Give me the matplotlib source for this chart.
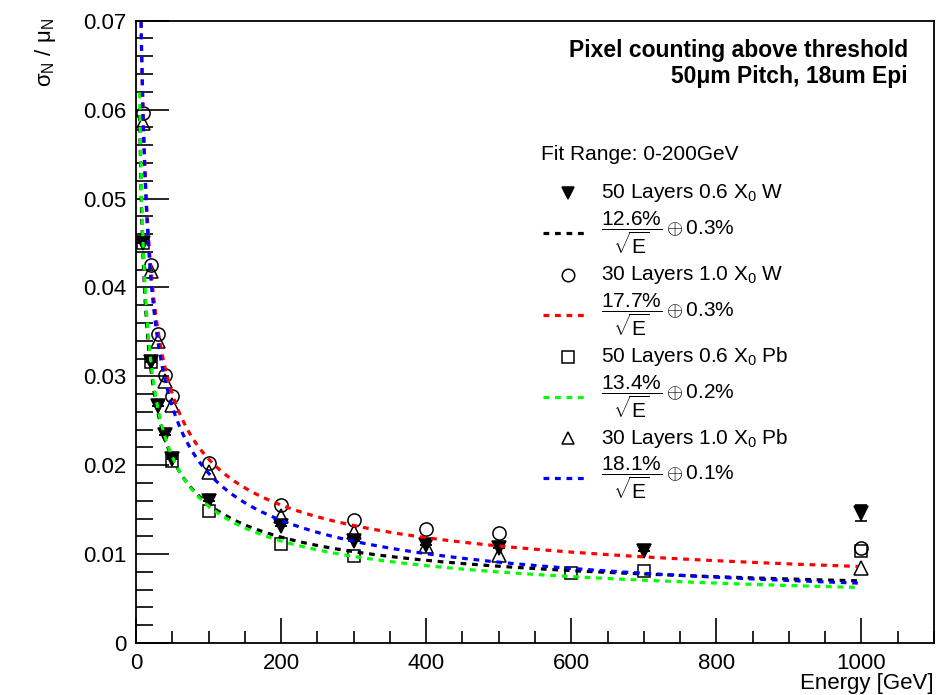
import numpy as np
import matplotlib
matplotlib.use('Agg')
import matplotlib.pyplot as plt
from matplotlib.ticker import MultipleLocator, FuncFormatter

plt.rcParams['font.family'] = ['Liberation Sans', 'DejaVu Sans']
plt.rcParams['mathtext.fontset'] = 'custom'
plt.rcParams['mathtext.rm'] = 'Liberation Sans'
plt.rcParams['mathtext.it'] = 'Liberation Sans:italic'
plt.rcParams['mathtext.bf'] = 'Liberation Sans:bold'

# measured points, sigma_N / mu_N vs beam energy [GeV]
e_w50 = [10, 20, 30, 40, 50, 100, 200, 300, 400, 500, 700, 1000]
res_w50 = [0.0450, 0.0316, 0.0267, 0.0234, 0.0207, 0.0160, 0.0132, 0.0115, 0.0110, 0.0107, 0.0103, 0.0146]
err_w50 = [0, 0, 0, 0, 0, 0, 0, 0, 0, 0, 0, 0.0009]

e_w30 = [10, 20, 30, 40, 50, 100, 200, 300, 400, 500, 1000]
res_w30 = [0.0596, 0.0425, 0.0348, 0.0302, 0.0278, 0.0203, 0.0155, 0.0138, 0.0128, 0.0124, 0.0107]

e_pb50 = [10, 20, 50, 100, 200, 300, 600, 700, 1000]
res_pb50 = [0.0450, 0.0316, 0.0205, 0.0148, 0.0111, 0.0098, 0.0079, 0.0081, 0.0104]

e_pb30 = [10, 20, 30, 40, 50, 100, 200, 300, 400, 500, 1000]
res_pb30 = [0.0585, 0.0418, 0.0340, 0.0295, 0.0268, 0.0192, 0.0143, 0.0125, 0.0109, 0.0099, 0.0084]

# fit results: a/sqrt(E) + b, in percent (from the legend)
fit_a = [12.6, 17.7, 13.4, 18.1]
fit_b = [0.3, 0.3, 0.2, 0.1]
fit_colors = ['black', '#ff0000', '#00ff00', '#0000ff']

labels = ['50 Layers 0.6 $\\mathrm{X}_0$ W', '30 Layers 1.0 $\\mathrm{X}_0$ W',
          '50 Layers 0.6 $\\mathrm{X}_0$ Pb', '30 Layers 1.0 $\\mathrm{X}_0$ Pb']

series = [
    (e_w50, res_w50, 'v', 'black'),
    (e_w30, res_w30, 'o', 'none'),
    (e_pb50, res_pb50, 's', 'none'),
    (e_pb30, res_pb30, '^', 'none'),
]
msizes = {'v': 9.5, 'o': 9.5, 's': 9, '^': 9.5}

W, H = 943, 695
fig = plt.figure(figsize=(W / 100, H / 100), dpi=100)
L, R, T, B = 136, 934, 20.7, 643
ax = fig.add_axes([L / W, 1 - B / H, (R - L) / W, (B - T) / H])

# only the 1 TeV tungsten point has an error bar larger than its marker
ax.errorbar(e_w50, res_w50, yerr=err_w50, fmt='none', ecolor='black',
            elinewidth=1.2, capsize=4, capthick=1.2, zorder=3)
for e, r, m, fc in series:
    ax.plot(e, r, m, color='black', mfc=fc, mec='black', ms=msizes[m], mew=1.1, zorder=3)

e_grid = np.linspace(5, 995, 400)
for a, b, c in zip(fit_a, fit_b, fit_colors):
    ax.plot(e_grid, a / 100 / np.sqrt(e_grid) + b / 100, color=c, lw=2.3,
            dashes=(1.8, 1.8), zorder=4)

ax.set_xlim(0, 1100)
ax.set_ylim(0, 0.07)
ax.xaxis.set_major_locator(MultipleLocator(200))
ax.xaxis.set_minor_locator(MultipleLocator(50))
ax.yaxis.set_major_locator(MultipleLocator(0.01))
ax.yaxis.set_minor_locator(MultipleLocator(0.002))
ax.yaxis.set_major_formatter(FuncFormatter(lambda v, p: '0' if abs(v) < 1e-9 else '%.2f' % v))
ax.tick_params(which='both', direction='in', top=False, right=False, labelsize=16, width=1.2)
ax.tick_params(axis='x', which='major', length=18, pad=7)
ax.tick_params(axis='x', which='minor', length=9)
ax.tick_params(axis='y', which='major', length=24, pad=7)
ax.tick_params(axis='y', which='minor', length=12)
for s in ax.spines.values():
    s.set_linewidth(1.3)

fig.text(45 / W, 1 - 18 / H, '$\\mathrm{\\sigma}_\\mathrm{N}$ / $\\mathrm{\\mu}_\\mathrm{N}$', rotation=90,
         ha='center', va='top', fontsize=16)
fig.text(R / W, 1 - 683 / H, 'Energy [GeV]', ha='right', va='center', fontsize=16)

fig.text(908 / W, 1 - 50 / H, 'Pixel counting above threshold', ha='right', va='center',
         fontsize=16.5, fontweight='bold')
fig.text(908 / W, 1 - 76 / H, '50\u03bcm Pitch, 18um Epi', ha='right', va='center',
         fontsize=16.5, fontweight='bold')

# legend, drawn by hand to keep the ROOT spacing
fig.text(541 / W, 1 - 155 / H, 'Fit Range: 0-200GeV', ha='left', va='center', fontsize=15)
row_y = [193, 233, 275, 315, 357, 397, 438, 478]
for i in range(4):
    ym = 1 - row_y[2 * i] / H
    yf = 1 - row_y[2 * i + 1] / H
    m, fc = series[i][2], series[i][3]
    fig.lines.append(plt.Line2D([568 / W], [ym], marker=m, mfc=fc, mec='black', color='black',
                                ms=msizes[m] - 0.5, mew=1.1, transform=fig.transFigure))
    fig.text(601 / W, ym, labels[i], ha='left', va='center', fontsize=15)
    fig.lines.append(plt.Line2D([543 / W, 588 / W], [yf, yf], color=fit_colors[i], lw=2.3,
                                dashes=(1.8, 1.8), transform=fig.transFigure))
    fig.text(601 / W, yf, '$\\dfrac{%.1f\\%%}{\\sqrt{\\mathrm{E}}}\\oplus %.1f\\%%$' % (fit_a[i], fit_b[i]),
             ha='left', va='center', fontsize=15)

fig.savefig('out.png', dpi=100)
